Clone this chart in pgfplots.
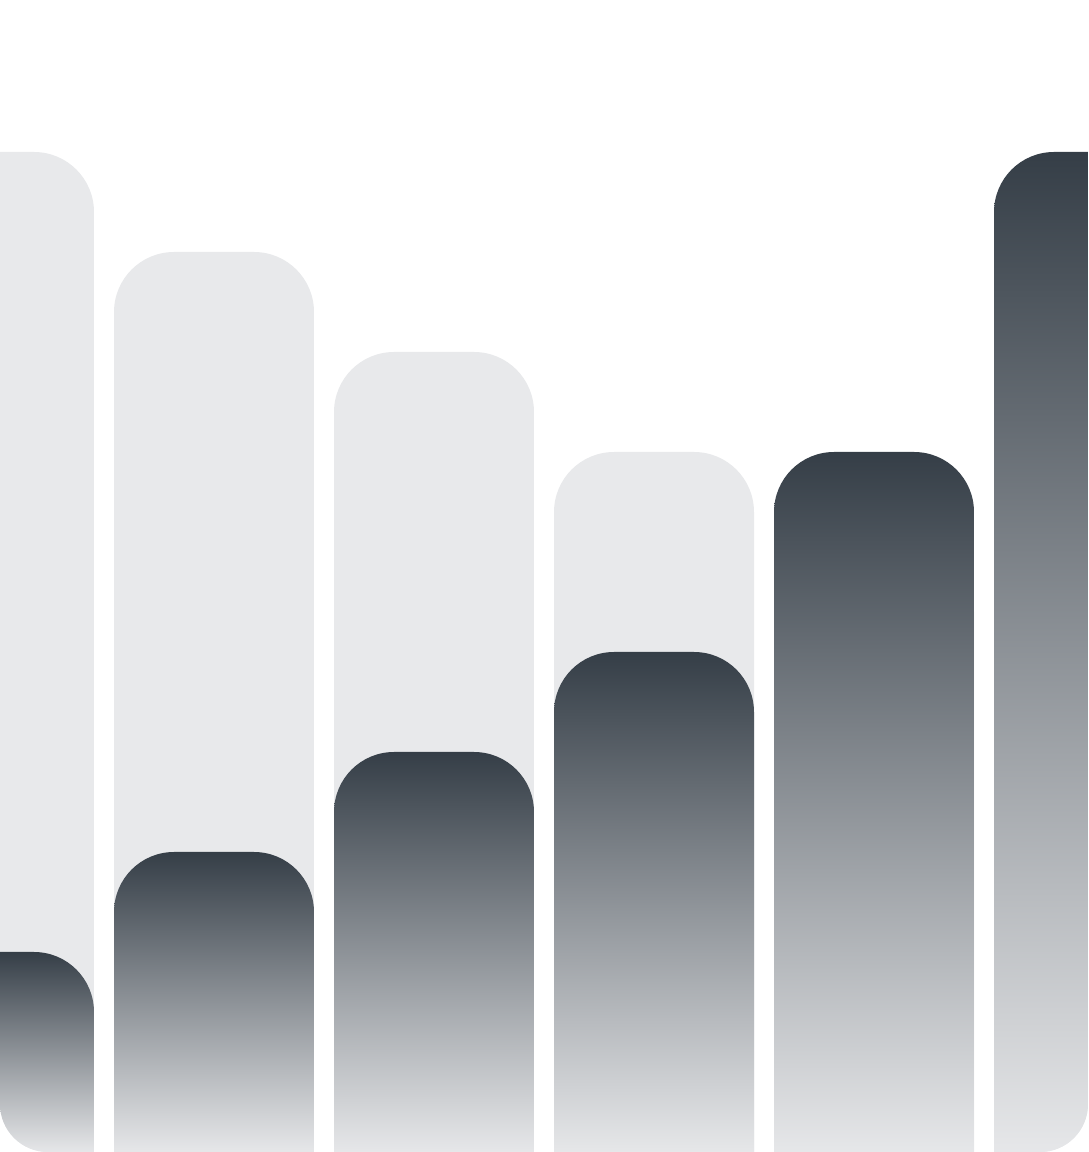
\documentclass[border=0pt]{standalone}
\usepackage{pgfplots}
\pgfplotsset{compat=1.18}

\definecolor{bgbar}{HTML}{E8E9EB}
\definecolor{bartop}{HTML}{353E47}
\definecolor{barbot}{HTML}{E6E7E9}

% one bar: left edge, right edge, height, style
\newcommand\roundbar[4]{%
  \addplot[#4] coordinates {(#1,0) (#1,#3) (#2,#3) (#2,0)};
}

\begin{document}
\begin{tikzpicture}
\path (0,0) rectangle (544pt,576pt);
\begin{scope}
\clip[rounded corners=24pt] (0,0) -- (0,576pt) -- (544pt,576pt) -- (544pt,0) -- cycle;
\begin{axis}[
  at={(0,0)}, anchor=south west,
  scale only axis,
  width=544pt, height=576pt,
  hide axis,
  xmin=0.02727, xmax=4.97273,
  ymin=0, ymax=11.52,
  clip=true,
  every axis plot/.append style={draw=none, rounded corners=30pt},
  bg/.style={fill=bgbar},
  fg/.style={top color=bartop, bottom color=barbot},
]
% background bars
\roundbar{-0.4545}{0.4545}{10}{bg}
\roundbar{0.5455}{1.4545}{9}{bg}
\roundbar{1.5455}{2.4545}{8}{bg}
\roundbar{2.5455}{3.4545}{7}{bg}
\roundbar{3.5455}{4.4545}{6}{bg}
\roundbar{4.5455}{5.4545}{5}{bg}
% foreground bars
\roundbar{-0.4545}{0.4545}{2}{fg}
\roundbar{0.5455}{1.4545}{3}{fg}
\roundbar{1.5455}{2.4545}{4}{fg}
\roundbar{2.5455}{3.4545}{5}{fg}
\roundbar{3.5455}{4.4545}{7}{fg}
\roundbar{4.5455}{5.4545}{10}{fg}
\end{axis}
\end{scope}
\end{tikzpicture}
\end{document}
